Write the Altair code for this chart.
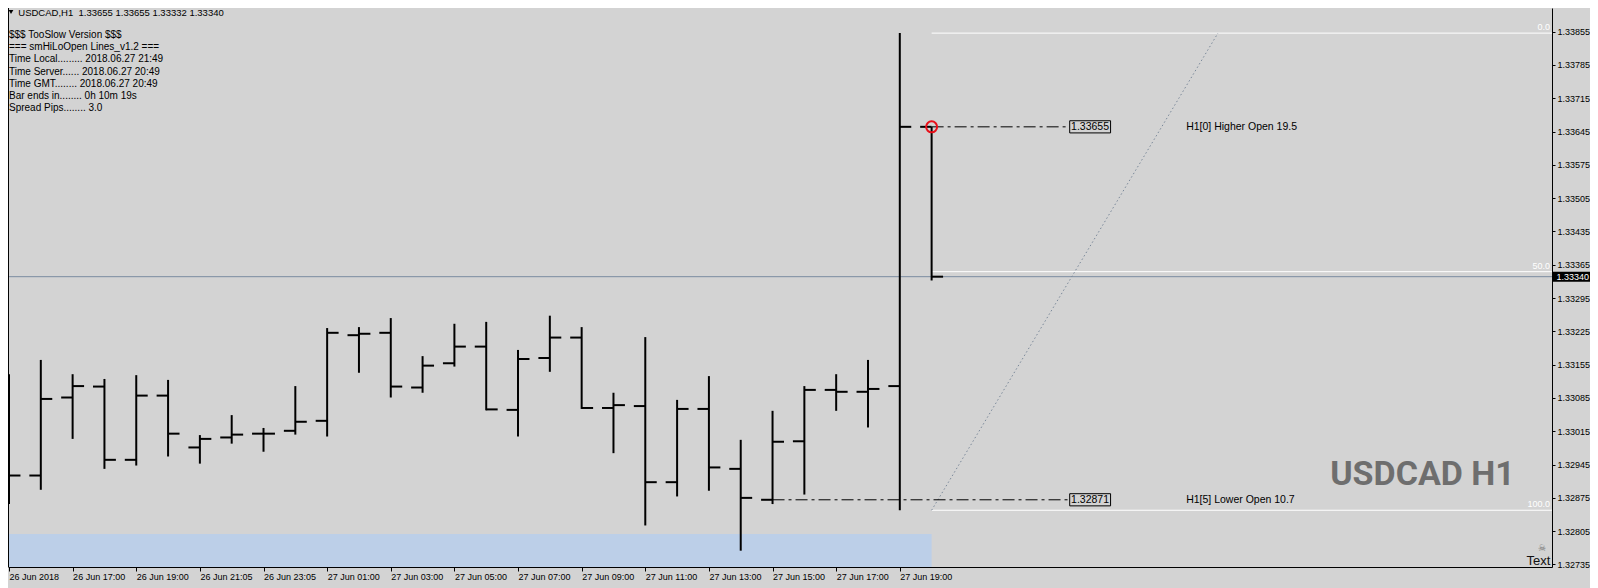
import json
import altair as alt
import pandas as pd

# ---------------- data ----------------
bar_index = list(range(30))
opens = [1.33100, 1.32922, 1.33086, 1.33109, 1.32955, 1.33090, 1.32981, 1.33002, 1.33010, 1.33016,
         1.33037, 1.33217, 1.33222, 1.33107, 1.33158, 1.33193, 1.33060, 1.33169, 1.33212, 1.33064,
         1.33068, 1.32908, 1.33062, 1.32936, 1.32871, 1.32994, 1.33102, 1.33098, 1.33110, 1.33655]
highs = [1.33135, 1.33165, 1.33135, 1.33125, 1.33133, 1.33123, 1.33007, 1.33049, 1.33022, 1.33110,
         1.33232, 1.33234, 1.33253, 1.33173, 1.33241, 1.33245, 1.33186, 1.33258, 1.33234, 1.33096,
         1.33213, 1.33081, 1.33131, 1.32997, 1.33058, 1.33110, 1.33135, 1.33165, 1.33852, 1.33655]
lows = [1.32862, 1.32892, 1.32999, 1.32936, 1.32943, 1.32962, 1.32947, 1.32989, 1.32972, 1.33008,
        1.33004, 1.33138, 1.33086, 1.33096, 1.33151, 1.33059, 1.33004, 1.33140, 1.33062, 1.32969,
        1.32817, 1.32878, 1.32890, 1.32764, 1.32862, 1.32882, 1.33058, 1.33023, 1.32849, 1.33332]
closes = [1.32922, 1.33083, 1.33110, 1.32955, 1.33090, 1.33010, 1.32999, 1.33008, 1.33010, 1.33035,
          1.33222, 1.33220, 1.33109, 1.33153, 1.33193, 1.33061, 1.33167, 1.33212, 1.33064, 1.33070,
          1.32908, 1.33062, 1.32939, 1.32875, 1.32993, 1.33102, 1.33098, 1.33104, 1.33655, 1.33340]

x_tick_bars = [0, 2, 4, 6, 8, 10, 12, 14, 16, 18, 20, 22, 24, 26, 28]
x_tick_labels = ["26 Jun 2018", "26 Jun 17:00", "26 Jun 19:00", "26 Jun 21:05", "26 Jun 23:05",
                 "27 Jun 01:00", "27 Jun 03:00", "27 Jun 05:00", "27 Jun 07:00", "27 Jun 09:00",
                 "27 Jun 11:00", "27 Jun 13:00", "27 Jun 15:00", "27 Jun 17:00", "27 Jun 19:00"]
y_tick_values = [1.33855, 1.33785, 1.33715, 1.33645, 1.33575, 1.33505, 1.33435, 1.33365, 1.33295,
                 1.33225, 1.33155, 1.33085, 1.33015, 1.32945, 1.32875, 1.32805, 1.32735]

fib_levels = [0.0, 50.0, 100.0]
fib_high = 1.33852
fib_low = 1.32849
fib_start_bar = 29
fib_diag_end_bar = 38

open_level_bars = [29, 24]
open_level_prices = [1.33655, 1.32871]
open_level_texts = ["H1[0] Higher Open 19.5", "H1[5] Lower Open 10.7"]

current_price = 1.33340
session_end_bar = 29
session_top_price = 1.32799

header_text = "USDCAD,H1\u00a0\u00a01.33655 1.33655 1.33332 1.33340"
info_lines = ["$$$ TooSlow Version $$$",
              "=== smHiLoOpen Lines_v1.2 ===",
              "Time Local......... 2018.06.27 21:49",
              "Time Server...... 2018.06.27 20:49",
              "Time GMT........ 2018.06.27 20:49",
              "Bar ends in........ 0h 10m 19s",
              "Spread Pips........ 3.0"]
watermark = "USDCAD H1"

# ---------------- scales / axes ----------------
X_DOMAIN = [-0.03125, 48.5]
Y_DOMAIN = [1.327297, 1.339048]
xs = alt.Scale(domain=X_DOMAIN, nice=False, zero=False)
ys = alt.Scale(domain=Y_DOMAIN, nice=False, zero=False)
FONT = "Liberation Sans"

x_axis = alt.Axis(values=x_tick_bars,
                  labelExpr=json.dumps(x_tick_labels) + "[round(datum.value / 2)]",
                  labelAlign="left", labelBaseline="top", labelFont=FONT, labelFontSize=9,
                  labelColor="black", tickColor="black", tickSize=4, labelPadding=1,
                  domain=True, domainColor="black", domainWidth=1, grid=False, title=None,
                  labelOverlap=False, labelFlush=False)
y_axis = alt.Axis(orient="right", values=y_tick_values, format=".5f",
                  labelFont=FONT, labelFontSize=9, labelColor="black", labelBaseline="middle",
                  tickColor="black", tickSize=3, labelPadding=2,
                  domain=True, domainColor="black", domainWidth=1, grid=False, title=None,
                  labelOverlap=False, labelFlush=False)


def X(f):
    return alt.X(f, type="quantitative", scale=xs, axis=x_axis)


def Y(f):
    return alt.Y(f, type="quantitative", scale=ys, axis=y_axis)


ohlc = pd.DataFrame({"bar": bar_index, "open": opens, "high": highs, "low": lows, "close": closes})

# session band
session = alt.Chart(pd.DataFrame({"x0": [X_DOMAIN[0]], "x1": [session_end_bar],
                                  "y0": [Y_DOMAIN[0]], "y1": [session_top_price]})).mark_rect(
    color="#BCCFE8").encode(x=X("x0"), x2="x1", y=Y("y0"), y2="y1")

# current price line
cur_line = alt.Chart(pd.DataFrame({"p": [current_price]})).mark_rule(
    color="#7A8CA0", strokeWidth=1).encode(y=Y("p"))

# fibonacci
fib_df = pd.DataFrame({"level": fib_levels})
fib_base = alt.Chart(fib_df).transform_calculate(
    price=f"{fib_high} - ({fib_high} - {fib_low}) * datum.level / 100",
    x0=f"{fib_start_bar}", x1=f"{X_DOMAIN[1]}", xl=f"{X_DOMAIN[1]} - 0.06",
    txt="format(datum.level, '.1f')")
fib_lines = fib_base.mark_rule(color="white", strokeWidth=1).encode(x=X("x0:Q"), x2="x1:Q", y=Y("price:Q"))
fib_text = fib_base.mark_text(color="white", font=FONT, fontSize=9, align="right",
                              baseline="bottom", dy=-1).encode(x=X("xl:Q"), y=Y("price:Q"), text="txt:N")
diag = alt.Chart(pd.DataFrame({"b": [fib_start_bar, fib_diag_end_bar], "p": [fib_low, fib_high]})).mark_line(
    color="#7A8899", strokeWidth=1, strokeDash=[1.5, 2.5]).encode(x=X("b"), y=Y("p"))

# open level lines
lv = pd.DataFrame({"bar": open_level_bars, "price": open_level_prices, "label": open_level_texts})
lv_base = alt.Chart(lv).transform_calculate(
    bl="33.34", br="34.625", bm="33.98", tx="37.0",
    p0="datum.price - 0.000128", p1="datum.price + 0.000128",
    val="format(datum.price, '.5f')")
lv_lines = lv_base.mark_rule(color="black", strokeWidth=1, strokeDash=[12, 4, 3, 4]).encode(
    x=X("bar:Q"), x2="bl:Q", y=Y("price:Q"))
lv_box = lv_base.mark_rect(fill="#D3D3D3", stroke="black", strokeWidth=1).encode(
    x=X("bl:Q"), x2="br:Q", y=Y("p0:Q"), y2="p1:Q")
lv_val = lv_base.mark_text(font=FONT, fontSize=10.5, color="black", align="center",
                           baseline="middle", dy=0.5).encode(x=X("bm:Q"), y=Y("price:Q"), text="val:N")
lv_lab = lv_base.mark_text(font=FONT, fontSize=10.5, color="black", align="left",
                           baseline="middle").encode(x=X("tx:Q"), y=Y("price:Q"), text="label:N")

# OHLC bars
wick = alt.Chart(ohlc).mark_rule(color="black", strokeWidth=2).encode(
    x=X("bar:Q"), y=Y("low:Q"), y2="high:Q")
open_tick = alt.Chart(ohlc).transform_calculate(xl="datum.bar - 0.36").mark_rule(
    color="black", strokeWidth=2).encode(x=X("xl:Q"), x2="bar:Q", y=Y("open:Q"))
close_tick = alt.Chart(ohlc).transform_calculate(xr="datum.bar + 0.36").mark_rule(
    color="black", strokeWidth=2).encode(x=X("bar:Q"), x2="xr:Q", y=Y("close:Q"))

# red circle on the higher open
circle = alt.Chart(pd.DataFrame({"b": [open_level_bars[0]], "p": [open_level_prices[0]]})).mark_point(
    shape="circle", filled=False, color="#E8101A", strokeWidth=2, size=121, opacity=1).encode(
    x=X("b"), y=Y("p"))

# current price tag on the axis
tag_df = pd.DataFrame({"p": [current_price]})
tag_base = alt.Chart(tag_df).transform_calculate(p0="datum.p - 0.000105", p1="datum.p + 0.000105",
                                                 txt="format(datum.p, '.5f')")
tag_rect = tag_base.mark_rect(color="black").encode(x=alt.value(1544.5), x2=alt.value(1582),
                                                    y=Y("p0:Q"), y2="p1:Q")
tag_text = tag_base.mark_text(color="white", font=FONT, fontSize=9, align="left", baseline="middle").encode(
    x=alt.value(1548.5), y=Y("p:Q"), text="txt:N")

# left frame line
left_frame = alt.Chart(pd.DataFrame({"x": [-0.0156]})).mark_rule(color="black", strokeWidth=1).encode(x=X("x"))

# texts
tri = alt.Chart(pd.DataFrame({"a": [0]})).mark_point(shape="triangle-down", filled=True, color="black",
                                                      size=22, opacity=1).encode(
    x=alt.value(3.0), y=alt.value(4.0))
header = alt.Chart(pd.DataFrame({"a": [0]})).mark_text(font=FONT, fontSize=9.5, color="black", align="left",
                                                        baseline="middle").encode(
    x=alt.value(10.3), y=alt.value(4.5), text=alt.value(header_text))
info = alt.Chart(pd.DataFrame({"a": [0]})).mark_text(font=FONT, fontSize=10, color="black", align="left",
                                                      baseline="top", lineHeight=12.05).encode(
    x=alt.value(1.0), y=alt.value(22.4), text=alt.value(info_lines))
wm = alt.Chart(pd.DataFrame({"a": [0]})).mark_text(font="Roboto", fontWeight="bold",
                                                    fontSize=34, color="#6E6E6E", align="center",
                                                    baseline="alphabetic").encode(
    x=alt.value(1414.5), y=alt.value(477), text=alt.value(watermark))
txt_lbl = alt.Chart(pd.DataFrame({"a": [0]})).mark_text(font=FONT, fontSize=13, color="#111111",
                                                         align="left", baseline="alphabetic").encode(
    x=alt.value(1518.5), y=alt.value(556.5), text=alt.value("Text"))
skull = alt.Chart(pd.DataFrame({"a": [0]})).mark_text(font="DejaVu Sans", fontSize=9, color="#707070",
                                                       align="center", baseline="bottom").encode(
    x=alt.value(1534), y=alt.value(545), text=alt.value("\u2620"))

chart = alt.layer(
    session, cur_line, fib_lines, diag, lv_lines, wick, open_tick, close_tick, circle,
    lv_box, lv_val, lv_lab, fib_text, tag_rect, tag_text, left_frame,
    tri, header, info, wm, txt_lbl, skull
).properties(
    width=1544, height=559,
    padding={"left": 0, "top": 0, "right": 38, "bottom": 21},
    autosize=alt.AutoSizeParams(type="none"),
).configure(background="#D3D3D3").configure_view(strokeWidth=0, fill="#D3D3D3")

chart.save("out.html", embed_options={"renderer": "svg", "actions": False})
